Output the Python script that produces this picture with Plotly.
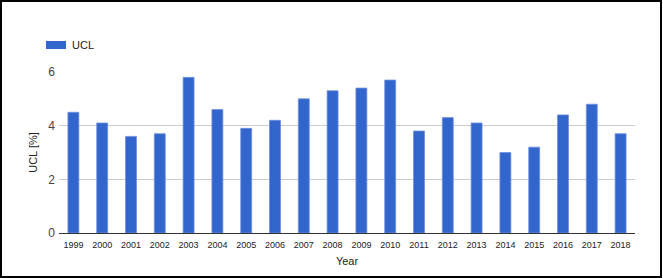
import plotly.graph_objects as go

years = [str(y) for y in range(1999, 2019)]
ucl = [4.5, 4.1, 3.6, 3.7, 5.8, 4.6, 3.9, 4.2, 5.0, 5.3,
       5.4, 5.7, 3.8, 4.3, 4.1, 3.0, 3.2, 4.4, 4.8, 3.7]
y_ticks = [0, 2, 4, 6]
series_name = "UCL"

W, H = 663, 278
L, R, T, B = 59, 28, 72, 45
pw, ph = W - L - R, H - T - B

def px_x(x):
    return (x - L) / pw

def px_y(y):
    return (H - B - y) / ph

FONT = "Liberation Sans, Arial, sans-serif"
BLUE = "#3366cc"

fig = go.Figure()
fig.add_trace(go.Bar(
    x=years, y=ucl, name=series_name,
    marker=dict(color=BLUE, line=dict(color="#6f8fdc", width=0.8)),
    showlegend=False,
))

fig.update_layout(
    width=W, height=H,
    margin=dict(l=L, r=R, t=T, b=B),
    paper_bgcolor="white", plot_bgcolor="white",
    bargap=0.62,
    font=dict(family=FONT, color="#222"),
    xaxis=dict(
        type="category", showgrid=False, ticks="",
        tickfont=dict(size=9, color="#222"), ticklabelstandoff=3,
        showline=True, linecolor="#333", linewidth=1,
        title=dict(text="Year", font=dict(size=11, color="#222"), standoff=8),
        fixedrange=True,
    ),
    yaxis=dict(
        range=[0, 6], tickvals=y_ticks, showgrid=True, gridcolor="#cccccc",
        gridwidth=1, zeroline=False, showline=False, ticks="",
        tickfont=dict(size=12, color="#444"), ticklabelstandoff=3,
        title=dict(text="UCL [%]", font=dict(size=11, color="#222"), standoff=8),
        fixedrange=True,
    ),
    shapes=[
        # legend swatch
        dict(type="rect", xref="paper", yref="paper",
             x0=px_x(46), x1=px_x(66), y0=px_y(49), y1=px_y(41),
             fillcolor=BLUE, line=dict(width=0)),
        # outer frame
        dict(type="rect", xref="paper", yref="paper",
             x0=px_x(1), x1=px_x(661), y0=px_y(277), y1=px_y(1),
             line=dict(color="black", width=2), fillcolor="rgba(0,0,0,0)"),
    ],
    annotations=[
        dict(text=series_name, xref="paper", yref="paper",
             x=px_x(70), y=px_y(45), xanchor="left", yanchor="middle",
             showarrow=False, font=dict(size=11, color="#222", family=FONT)),
    ],
)

fig.write_html("out.html")
